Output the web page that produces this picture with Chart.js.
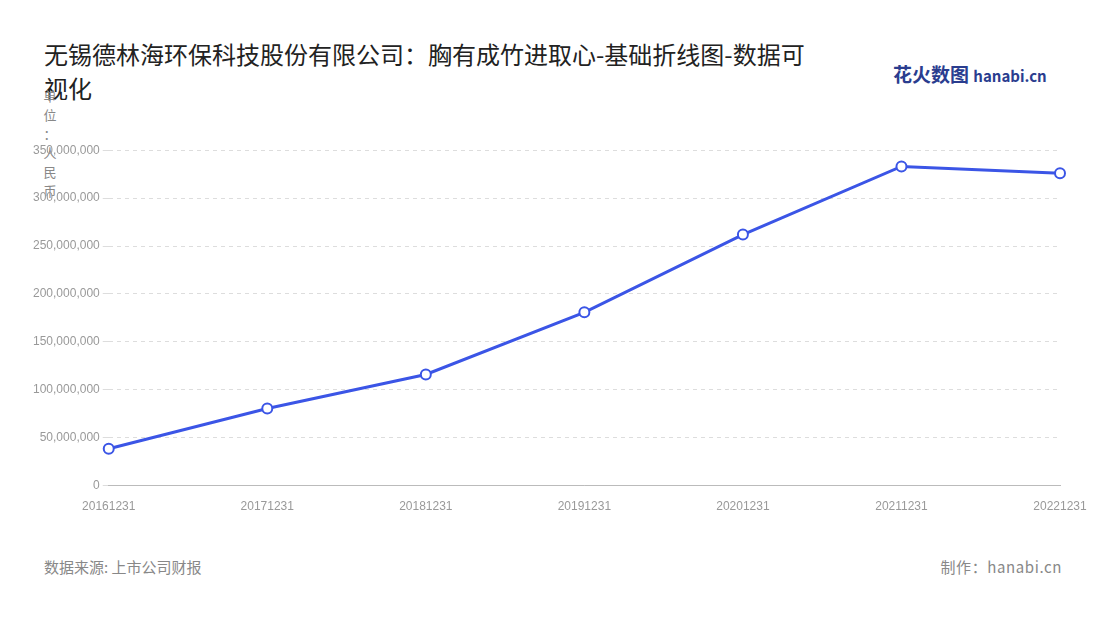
<!DOCTYPE html>
<html><head><meta charset="utf-8">
<script src="https://cdn.jsdelivr.net/npm/chart.js@4"></script>
<style>
body{margin:0;width:1100px;height:620px;background:#fff;font-family:"Noto Sans CJK SC","Noto Sans",sans-serif;position:relative;overflow:hidden}
#title{position:absolute;left:44px;top:37px;width:772px;font-size:24px;line-height:34px;color:#222}
#unit{position:absolute;left:43px;top:86px;font-size:13px;line-height:19px;color:#888;width:14px;text-align:center}
#logo{position:absolute;left:893px;top:60px;font-size:19px;font-weight:bold;color:#2a3d8f}
#logo span{font-size:15px;color:#2a3d8f}
#src{position:absolute;left:44px;top:556px;font-size:15px;color:#888}
#made{position:absolute;right:38px;top:556px;font-size:15px;color:#888;letter-spacing:0.6px}
#wrap{position:absolute;left:30px;top:140px;width:1070px;height:380px}
</style></head><body>
<div id="title">无锡德林海环保科技股份有限公司：胸有成竹进取心-基础折线图-数据可视化</div>
<div id="unit">单<br>位<br>：<br>人<br>民<br>币</div>
<div id="logo">花火数图 <span>hanabi.cn</span></div>
<div id="src">数据来源: 上市公司财报</div>
<div id="made">制作：hanabi.cn</div>
<div id="wrap"><canvas id="c"></canvas></div>
<script>
const categories=["20161231","20171231","20181231","20191231","20201231","20211231","20221231"];
const values=[38500000,80500000,116000000,180800000,262000000,333000000,326000000];
const yTicks=[0,50000000,100000000,150000000,200000000,250000000,300000000,350000000];
new Chart(document.getElementById('c'),{
type:'line',
data:{labels:categories,datasets:[{data:values,borderColor:'#3b55e6',borderWidth:3,pointBackgroundColor:'#fff',pointBorderColor:'#3b55e6',pointBorderWidth:2,pointRadius:5,tension:0}]},
options:{responsive:true,maintainAspectRatio:false,animation:false,
layout:{padding:{top:10,right:40,left:0,bottom:0}},
plugins:{legend:{display:false},tooltip:{enabled:false}},
scales:{
x:{offset:false,grid:{display:false},border:{color:'#bbb'},ticks:{color:'#999',font:{size:12},maxRotation:0,padding:6}},
y:{min:0,max:350000000,afterBuildTicks:a=>{a.ticks=yTicks.map(v=>({value:v}))},
grid:{color:'#ddd',tickLength:6},border:{display:false,dash:[4,4]},
ticks:{color:'#999',font:{size:12},callback:v=>v.toLocaleString('en-US')}}
}}});
</script></body></html>
